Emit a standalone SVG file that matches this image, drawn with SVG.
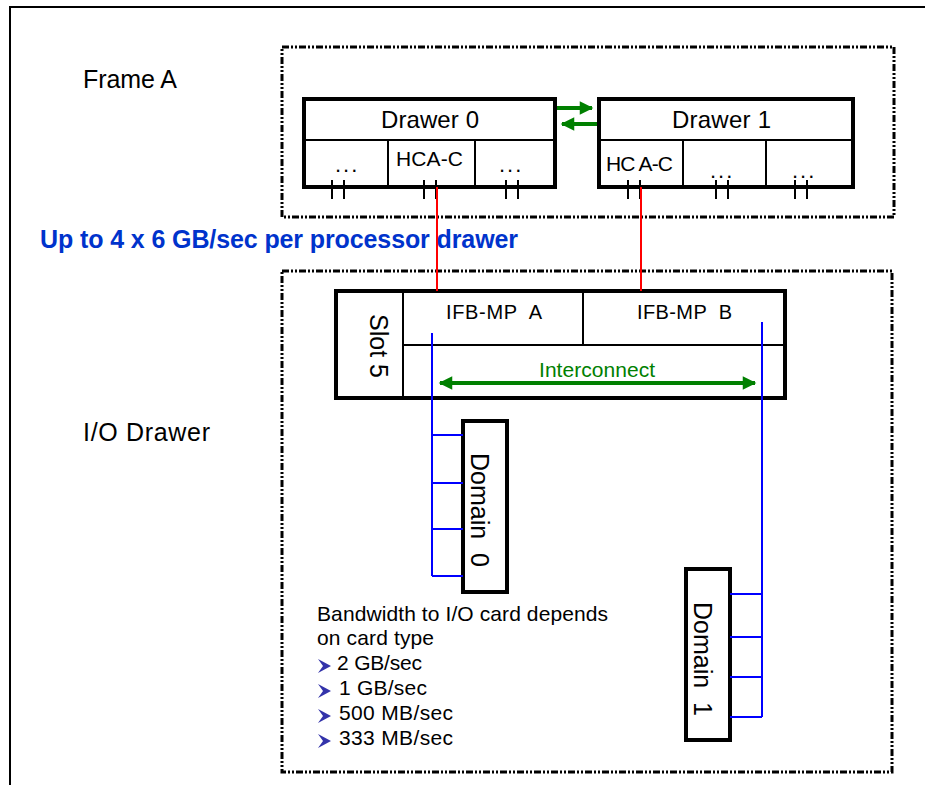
<svg xmlns="http://www.w3.org/2000/svg" width="925" height="785" viewBox="0 0 925 785">
<defs>
<style>
text{font-family:"Liberation Sans",Arial,sans-serif;fill:#000}
.dash{fill:none;stroke:#000;stroke-width:3;stroke-dasharray:7 2 2 2 2 2}
.box{fill:#fff;stroke:#000;stroke-width:4}
.thin{stroke:#000;stroke-width:2;fill:none}
.tick{stroke:#000;stroke-width:2}
.red{stroke:#ff0000;stroke-width:2}
.blue{stroke:#0000ff;stroke-width:2;fill:none}
.green{stroke:#008000;stroke-width:4}
.big{font-size:25px}
.mid{font-size:21px}
.dots{font-size:22px;letter-spacing:2px}
</style>
<marker id="ga" viewBox="0 0 10 10" refX="9" refY="5" markerWidth="4" markerHeight="3.4" orient="auto-start-reverse">
<path d="M0,0 L10,5 L0,10 z" fill="#008000"/>
</marker>
</defs>
<rect width="925" height="785" fill="#fff"/>
<path d="M10,785 V7 H925" fill="none" stroke="#000" stroke-width="2"/>

<g id="frameA">
<rect class="dash" x="282" y="47" width="612" height="170"/>
<text x="83" y="88" class="big" textLength="94">Frame A</text>
</g>
<g id="ioDrawer">
<rect class="dash" x="282" y="271" width="610" height="501"/>
<text x="83" y="441" class="big" textLength="127">I/O Drawer</text>
</g>

<g id="drawer0">
<rect class="box" x="304" y="99" width="251" height="88"/>
<line class="thin" x1="304" y1="140" x2="555" y2="140"/>
<line class="thin" x1="388" y1="140" x2="388" y2="187"/>
<line class="thin" x1="475" y1="140" x2="475" y2="187"/>
<text x="381" y="128" font-size="24" textLength="98">Drawer 0</text>
<text x="335" y="172" class="dots">...</text>
<text x="396" y="166" class="mid" textLength="67">HCA-C</text>
<text x="499" y="172" class="dots">...</text>
<g class="tick">
<line x1="332" y1="180" x2="332" y2="199"/><line x1="344" y1="180" x2="344" y2="199"/>
<line x1="424" y1="180" x2="424" y2="199"/><line x1="436" y1="180" x2="436" y2="199"/>
<line x1="506" y1="180" x2="506" y2="199"/><line x1="518" y1="180" x2="518" y2="199"/>
</g>
</g>

<g id="drawer1">
<rect class="box" x="599" y="99" width="254" height="88"/>
<line class="thin" x1="599" y1="140" x2="853" y2="140"/>
<line class="thin" x1="683" y1="140" x2="683" y2="187"/>
<line class="thin" x1="766" y1="140" x2="766" y2="187"/>
<text x="672" y="128" font-size="24" textLength="99">Drawer 1</text>
<text x="606" y="171" class="mid" textLength="67">HC A-C</text>
<text x="710" y="178" class="dots">...</text>
<text x="792" y="178" class="dots">...</text>
<g class="tick">
<line x1="628" y1="180" x2="628" y2="199"/><line x1="640" y1="180" x2="640" y2="199"/>
<line x1="716" y1="180" x2="716" y2="199"/><line x1="728" y1="180" x2="728" y2="199"/>
<line x1="795" y1="180" x2="795" y2="199"/><line x1="807" y1="180" x2="807" y2="199"/>
</g>
</g>

<text x="40" y="248" font-size="25" font-weight="bold" textLength="478" style="fill:#0033cc">Up to 4 x 6 GB/sec per processor drawer</text>

<g id="slot5">
<rect class="box" x="336" y="291" width="449" height="107"/>
<line class="thin" x1="403" y1="291" x2="403" y2="398"/>
<line class="thin" x1="403" y1="345" x2="785" y2="345"/>
<line class="thin" x1="583" y1="291" x2="583" y2="345"/>
<text transform="translate(370,346) rotate(90)" font-size="25" text-anchor="middle">Slot 5</text>
<text x="446" y="319" font-size="20" textLength="96" xml:space="preserve">IFB-MP  A</text>
<text x="637" y="319" font-size="20" textLength="95" xml:space="preserve">IFB-MP  B</text>
<text x="539" y="377" class="mid" textLength="116" style="fill:#008000">Interconnect</text>
</g>

<g id="domain0">
<rect class="box" x="463" y="421" width="44" height="171"/>
<text transform="translate(471,510) rotate(90)" font-size="25" text-anchor="middle" xml:space="preserve">Domain  0</text>
</g>
<g id="domain1">
<rect class="box" x="686" y="569" width="44" height="171"/>
<text transform="translate(694,659) rotate(90)" font-size="25" text-anchor="middle" xml:space="preserve">Domain  1</text>
</g>

<g id="connectors">
<line class="red" x1="437" y1="187" x2="437" y2="291"/>
<line class="red" x1="641" y1="187" x2="641" y2="291"/>
<line class="green" x1="557" y1="108" x2="592" y2="108" marker-end="url(#ga)"/>
<line class="green" x1="597" y1="124" x2="562" y2="124" marker-end="url(#ga)"/>
<line class="green" x1="440" y1="383" x2="755" y2="383" marker-start="url(#ga)" marker-end="url(#ga)"/>
<path class="blue" d="M432,333 V576 M432,435 H463 M432,483 H463 M432,529 H463 M432,576 H463"/>
<path class="blue" d="M762,322 V717 M730,594 H762 M730,637 H762 M730,677 H762 M730,717 H762"/>
</g>

<g id="notes" class="mid">
<text x="317" y="621" textLength="291">Bandwidth to I/O card depends</text>
<text x="317" y="645" textLength="117">on card type</text>
<path d="M318,659 L331,666 L318,673 L323,666 z" fill="#3333aa"/>
<path d="M318,684 L331,691 L318,698 L323,691 z" fill="#3333aa"/>
<path d="M318,709 L331,716 L318,723 L323,716 z" fill="#3333aa"/>
<path d="M318,734 L331,741 L318,748 L323,741 z" fill="#3333aa"/>
<text x="337" y="670" textLength="85">2 GB/sec</text>
<text x="339" y="695" textLength="88">1 GB/sec</text>
<text x="339" y="720" textLength="114">500 MB/sec</text>
<text x="339" y="745" textLength="114">333 MB/sec</text>
</g>
</svg>
